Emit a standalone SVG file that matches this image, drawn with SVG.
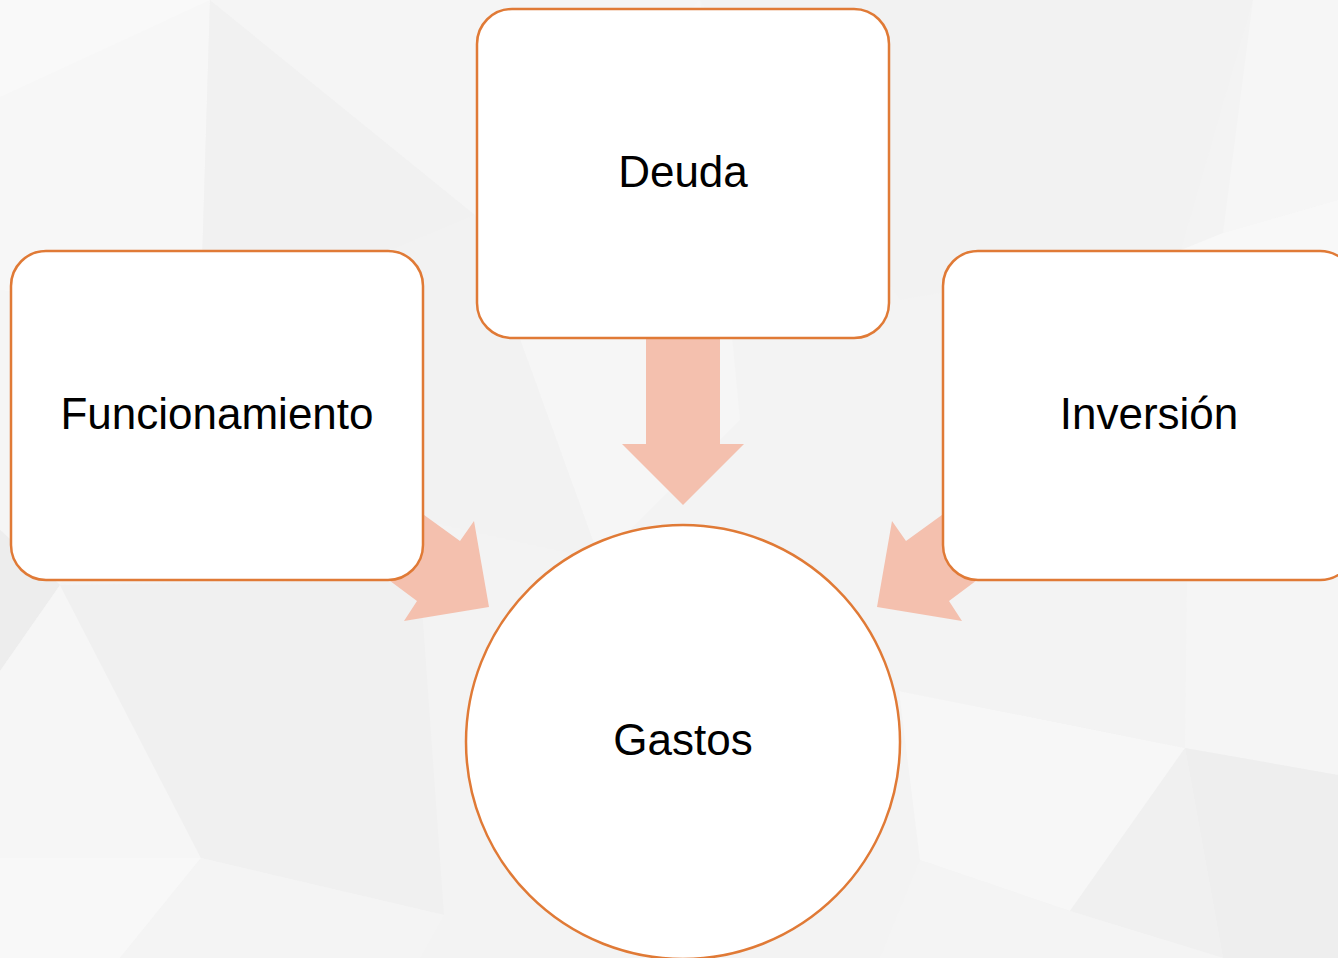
<svg xmlns="http://www.w3.org/2000/svg" width="1338" height="958" viewBox="0 0 1338 958">
<style>
.box{fill:#FFFFFF;stroke:#E07A36;stroke-width:2.5}
.arrow{fill:#F4C0AE;stroke:none}
.lbl{font-family:"Liberation Sans",Arial,sans-serif;font-size:44px;fill:#000000;text-anchor:middle}
</style>
<g id="background">
<rect x="0" y="0" width="1338" height="958" fill="#F3F3F3"/>
<polygon points="0,0 210,0 200,330 0,290" fill="#F7F7F7"/>
<polygon points="0,0 210,0 0,97" fill="#F9F9F9"/>
<polygon points="210,0 475,215 200,330" fill="#F1F1F1"/>
<polygon points="210,0 700,0 475,215" fill="#F5F5F5"/>
<polygon points="475,215 700,0 740,420 600,560" fill="#F6F6F6"/>
<polygon points="200,330 475,215 600,560 420,520" fill="#F2F2F2"/>
<polygon points="0,290 200,330 60,585 0,530" fill="#F5F5F5"/>
<polygon points="0,530 60,585 0,671" fill="#EDEDED"/>
<polygon points="60,585 201,858 0,858 0,671" fill="#F6F6F6"/>
<polygon points="60,585 420,580 444,915 201,858" fill="#F0F0F0"/>
<polygon points="0,858 201,858 120,958 0,958" fill="#F8F8F8"/>
<polygon points="201,858 444,915 420,958 120,958" fill="#F4F4F4"/>
<polygon points="700,0 1253,0 1181,250 900,300" fill="#F2F2F2"/>
<polygon points="1253,0 1338,0 1338,200 1223,233" fill="#F6F6F6"/>
<polygon points="1181,250 1223,233 1338,200 1338,260" fill="#F8F8F8"/>
<polygon points="899,691 1185,748 1070,911 920,860" fill="#F7F7F7"/>
<polygon points="899,580 1187,578 1185,748 899,691" fill="#F3F3F3"/>
<polygon points="1187,578 1338,580 1338,775 1185,748" fill="#F5F5F5"/>
<polygon points="1185,748 1338,775 1338,958 1223,958" fill="#EEEEEE"/>
<polygon points="1185,748 1223,958 1070,911" fill="#F0F0F0"/>
<polygon points="920,860 1070,911 1223,958 880,958" fill="#F4F4F4"/>
</g>
<g id="connectors">
<polygon class="arrow" points="646,330 720,330 720,444 744,444 683,505 622,444 646,444"/>
<polygon class="arrow" points="344,457 460,541 474,521 489,607 404,621 417,601 311,522"/>
<polygon class="arrow" points="1022,457 906,541 892,521 877,607 962,621 949,601 1055,522"/>
</g>
<g id="node-deuda">
<rect class="box" x="477" y="9" width="412" height="329" rx="35" ry="35"/>
<text class="lbl" x="683" y="187">Deuda</text>
</g>
<g id="node-funcionamiento">
<rect class="box" x="11" y="251" width="412" height="329" rx="35" ry="35"/>
<text class="lbl" x="217" y="429">Funcionamiento</text>
</g>
<g id="node-inversion">
<rect class="box" x="943" y="251" width="412" height="329" rx="35" ry="35"/>
<text class="lbl" x="1149" y="429">Inversión</text>
</g>
<g id="node-gastos">
<circle class="box" cx="683" cy="742" r="217"/>
<text class="lbl" x="683" y="755">Gastos</text>
</g>
</svg>
